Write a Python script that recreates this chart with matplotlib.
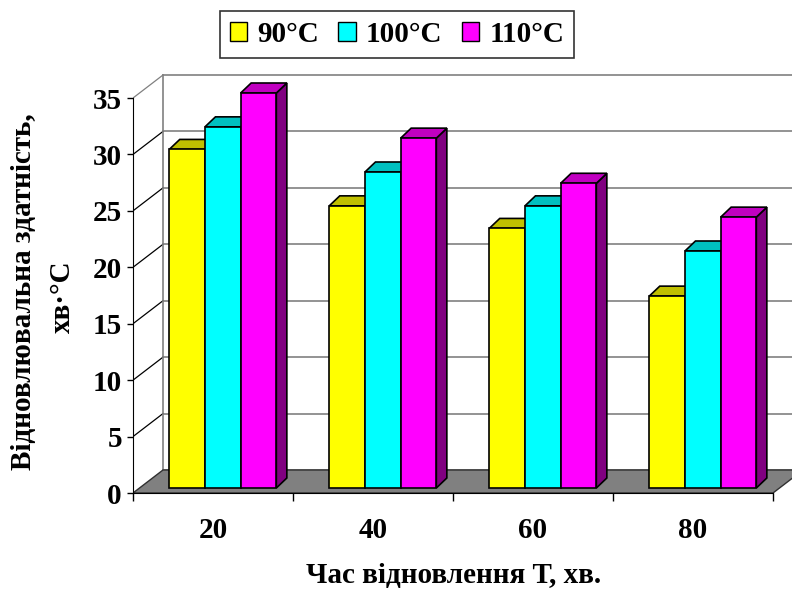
import numpy as np
import matplotlib
matplotlib.use('Agg')
import matplotlib.pyplot as plt
from matplotlib.patches import Polygon, Patch

plt.rcParams['font.family'] = ['Liberation Serif', 'DejaVu Serif']
plt.rcParams['font.weight'] = 'bold'

times = ['20', '40', '60', '80']
series = ['90°C', '100°C', '110°C']
v90 = [30, 25, 23, 17]
v100 = [32, 28, 25, 21]
v110 = [35, 31, 27, 24]
yticks = [0, 5, 10, 15, 20, 25, 30, 35]

front_colors = ['#FFFF00', '#00FFFF', '#FF00FF']
top_colors = ['#C0C000', '#00C0C0', '#C000C0']
side_colors = ['#808000', '#008080', '#800080']

W, H = 792, 589
fig = plt.figure(figsize=(W / 100, H / 100), dpi=100)

# pixel geometry of the front plane
x0, y0 = 133, 493
px_cat = 160.0
px_val = (493 - 98) / 35.0
top_px = 60
ax = fig.add_axes([x0 / W, (H - y0) / H, (W - x0) / W, (y0 - top_px) / H])
xmax = (W - x0) / px_cat
ax.set_xlim(0, xmax)
ax.set_ylim(0, (y0 - top_px) / px_val)

# depth of floor / walls and of the bars (data units)
fdx, fdy = 30 / px_cat, 23 / px_val
ddx, ddy = 10.5 / px_cat, 10 / px_val
lift = 5 / px_val
bw = 35.7 / px_cat
gc = 89.8 / px_cat
ncat = len(times)
ymax = yticks[-1]

# back wall grid and left wall
for v in yticks:
    ax.plot([fdx, xmax], [v + fdy, v + fdy], color='#808080', lw=1.2, zorder=0.5)
    if v > 0:
        c = '#808080' if v == ymax else 'black'
        ax.plot([0, fdx], [v, v + fdy], color=c, lw=0.9, zorder=0.6)
ax.plot([fdx, fdx], [fdy, ymax + fdy], color='#808080', lw=1.2, zorder=0.6)

# floor
floor = Polygon([(0, 0), (ncat, 0), (ncat + fdx, fdy), (fdx, fdy)],
                closed=True, facecolor='#808080', edgecolor='#303030', lw=1, zorder=1)
ax.add_patch(floor)

# bars
for j, vals in enumerate([v90, v100, v110]):
    xs = np.arange(ncat) + gc - 1.5 * bw + j * bw
    for xl, v in zip(xs, vals):
        xr = xl + bw
        t = v + lift
        side = Polygon([(xr, lift), (xr + ddx, lift + ddy), (xr + ddx, t + ddy), (xr, t)],
                       closed=True, facecolor=side_colors[j], edgecolor='black', lw=1.2,
                       zorder=3 + 2 * j)
        top = Polygon([(xl, t), (xl + ddx, t + ddy), (xr + ddx, t + ddy), (xr, t)],
                      closed=True, facecolor=top_colors[j], edgecolor='black', lw=1.2,
                      zorder=3 + 2 * j)
        ax.add_patch(side)
        ax.add_patch(top)
    ax.bar(xs, vals, width=bw, bottom=lift, align='edge', color=front_colors[j],
           edgecolor='black', lw=1.2, zorder=4 + 2 * j)

# axes
for s in ['top', 'right']:
    ax.spines[s].set_visible(False)
ax.spines['left'].set_bounds(0, ymax)
ax.spines['bottom'].set_bounds(0, ncat)
ax.spines['left'].set_zorder(2)
ax.spines['bottom'].set_zorder(2)
ax.set_yticks(yticks)
ax.set_yticklabels([str(v) for v in yticks])
ax.tick_params(axis='y', length=4, width=1, labelsize=21, pad=4)
ax.set_xticks(np.arange(ncat + 1))
ax.set_xticklabels([])
ax.set_xticks(np.arange(ncat) + 0.5, minor=True)
ax.set_xticklabels(times, minor=True)
ax.tick_params(axis='x', which='major', length=6, width=1)
ax.tick_params(axis='x', which='minor', length=0, labelsize=21, pad=17)

# labels
fig.text(454 / W, 1 - 576 / H, 'Час відновлення Т, хв.', ha='center', va='center', fontsize=21)
fig.text(24 / W, 1 - 292 / H, 'Відновлювальна здатність,', ha='center', va='center',
         rotation=90, fontsize=21)
fig.text(62 / W, 1 - 297 / H, 'хв·°C', ha='center', va='center', rotation=90, fontsize=21)

handles = [Patch(facecolor=c, edgecolor='black', lw=1) for c in front_colors]
leg = fig.legend(handles, series, loc='center', bbox_to_anchor=(397 / W, 1 - 34.5 / H),
                 ncol=3, frameon=True, fancybox=False, edgecolor='black',
                 handlelength=0.6, handleheight=0.6, handletextpad=0.35,
                 columnspacing=0.65, borderpad=0.35, prop={'size': 21, 'weight': 'bold'})
leg.get_frame().set_linewidth(1.2)

fig.savefig('out.png', dpi=100)
